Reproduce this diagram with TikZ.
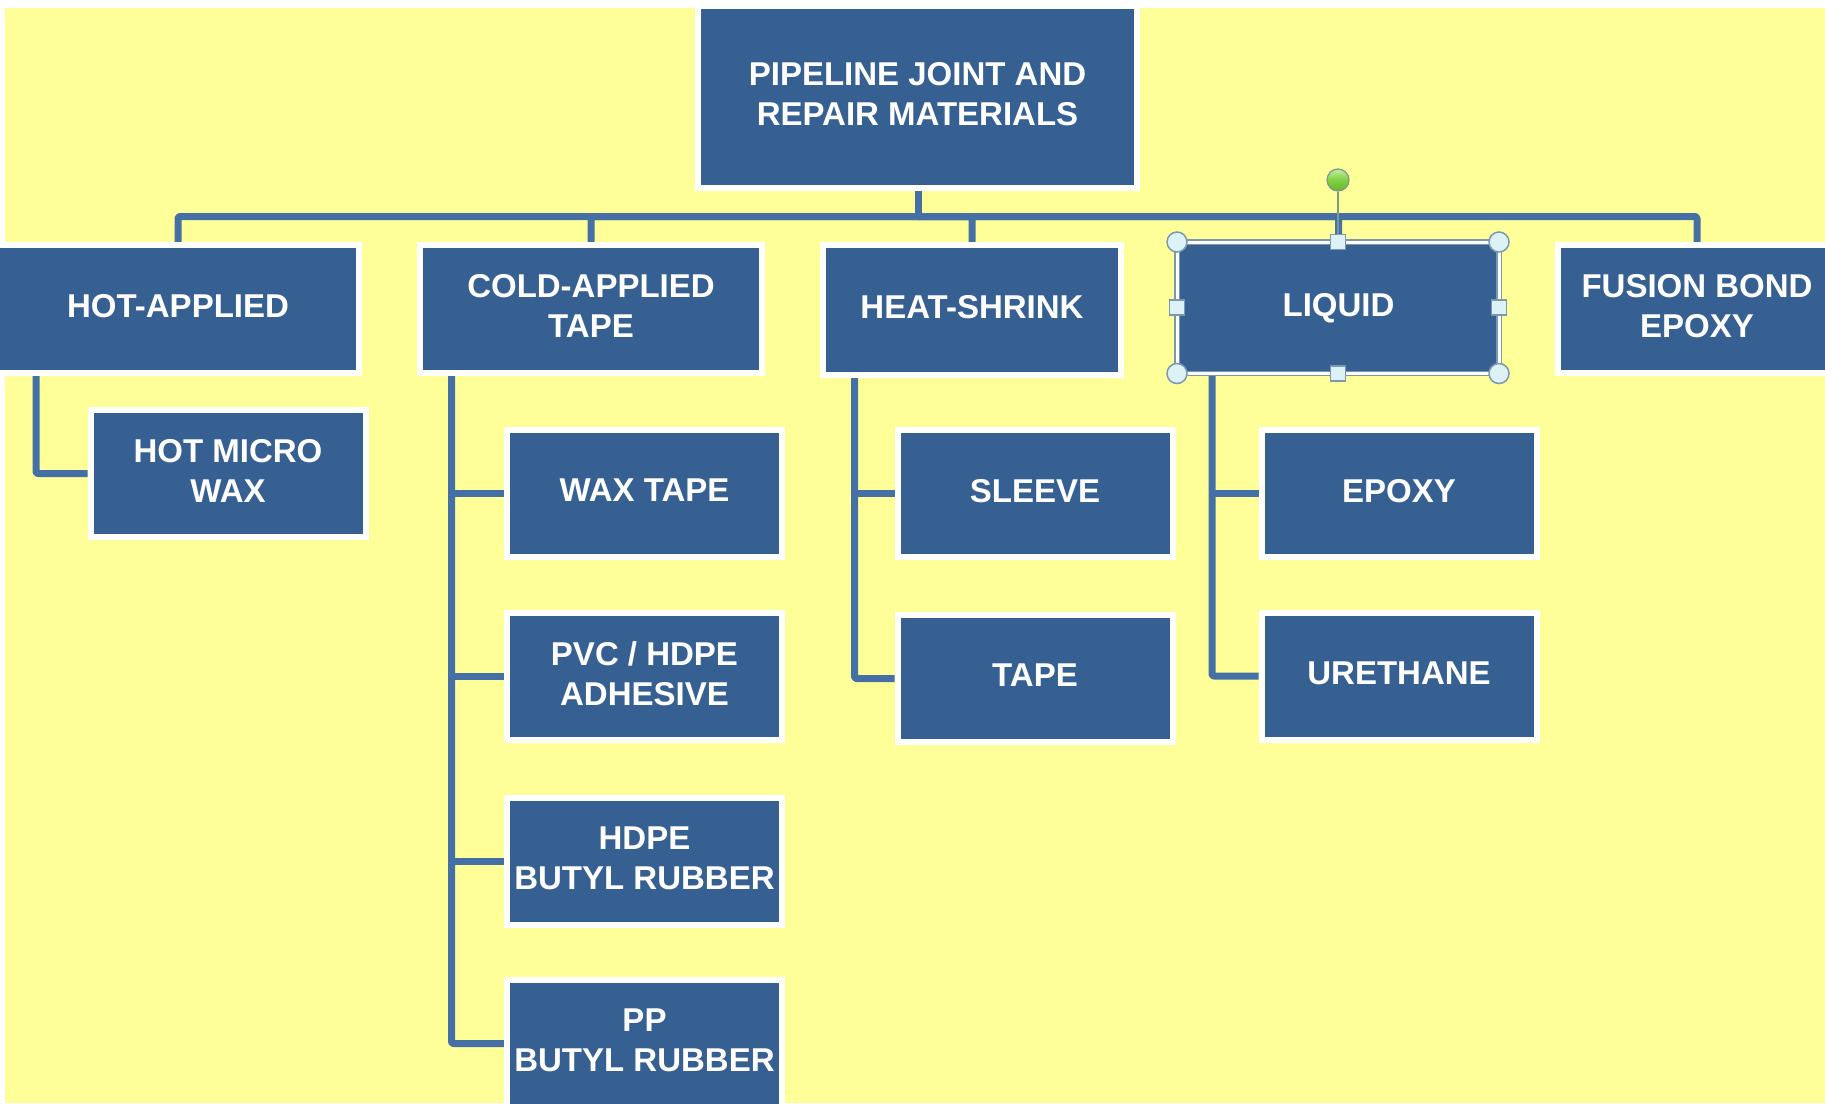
\documentclass[tikz,border=0pt]{standalone}
\usepackage{fontspec}
\setmainfont{Liberation Sans}
\usetikzlibrary{backgrounds}
\definecolor{bgyellow}{HTML}{FFFF99}
\definecolor{boxblue}{HTML}{376092}
\definecolor{connblue}{HTML}{4570A5}
\definecolor{handlefill}{HTML}{DDF2F7}
\definecolor{handledraw}{HTML}{7C98B0}
\definecolor{rotgreen}{HTML}{7FD23E}
\definecolor{rotline}{HTML}{7A9A8E}
\tikzset{
  box/.style={fill=boxblue, draw=white, line width=6pt, text=white, align=center,
    inner sep=0pt, text depth=6pt, font=\bfseries\fontsize{33}{40}\selectfont},
  lvltop/.style={box, minimum height=128pt},
  lvlsub/.style={box, minimum width=275pt, minimum height=127pt},
  conn/.style={draw=connblue, line width=7pt, line join=round, rounded corners=2pt},
  roundhandle/.style={circle, fill=handlefill, draw=handledraw, line width=1.5pt, minimum size=20pt, inner sep=0pt},
  squarehandle/.style={rectangle, fill=handlefill, draw=handledraw, line width=1.5pt, minimum size=15pt, inner sep=0pt},
}
\begin{document}
\begin{tikzpicture}[x=1pt,y=1pt]
\useasboundingbox (0,0) rectangle (1825,-1103);
\clip (0,0) rectangle (1825,-1103);

% boxes
\path
  node[box, minimum width=439pt, minimum height=182pt] (root) at (917.5,-97) {PIPELINE JOINT AND\\REPAIR MATERIALS}
  node[lvltop, minimum width=362pt] (hot) at (178,-309) {HOT-APPLIED}
  node[lvltop, minimum width=342pt] (cold) at (591,-309) {COLD-APPLIED\\TAPE}
  node[lvltop, minimum width=298pt, minimum height=130pt] (heat) at (972,-310) {HEAT-SHRINK}
  node[lvltop, minimum width=321pt, minimum height=129pt, draw=none] (liq) at (1338.5,-308) {LIQUID}
  node[lvltop, minimum width=278pt] (fbe) at (1697,-309) {FUSION BOND\\EPOXY}
  node[lvlsub] (hmw) at (228,-473.5) {HOT MICRO\\WAX}
  node[lvlsub] (wax) at (644.5,-493.5) {WAX TAPE}
  node[lvlsub] (pvc) at (644.5,-676.5) {PVC / HDPE\\ADHESIVE}
  node[lvlsub] (hdpe) at (644.5,-861.5) {HDPE\\BUTYL RUBBER}
  node[lvlsub] (pp) at (644.5,-1043.5) {PP\\BUTYL RUBBER}
  node[lvlsub] (sleeve) at (1035,-493.5) {SLEEVE}
  node[lvlsub] (tape) at (1035,-678.5) {TAPE}
  node[lvlsub] (epoxy) at (1399,-493.5) {EPOXY}
  node[lvlsub] (ureth) at (1399,-676) {URETHANE};

% selection frame and handles of LIQUID
\draw[draw=handledraw, double=white, line width=1.2pt, double distance=3pt]
  (1177,-242) rectangle (1499,-373.5);
\node[roundhandle] (c1) at (1177,-242) {};
\node[roundhandle] (c2) at (1499,-242) {};
\node[roundhandle] (c3) at (1177,-373.5) {};
\node[roundhandle] (c4) at (1499,-373.5) {};
\node[squarehandle] (s1) at (1338,-242) {};
\node[squarehandle] (s2) at (1338,-373.5) {};
\node[squarehandle] (s3) at (1177,-307.5) {};
\node[squarehandle] (s4) at (1499,-307.5) {};
\node[circle, minimum size=22pt, inner sep=0pt, draw=rotline, line width=1.2pt,
  top color=rotgreen!45!white, bottom color=rotgreen!85!black, middle color=rotgreen] (rot) at (1338,-180) {};
\draw[rotline, line width=2.5pt] (rot.south) -- (s1.north);

% background and connectors, behind the boxes
\begin{scope}[on background layer]
  \fill[white] (0,0) rectangle (1825,-1103);
  \fill[bgyellow] (5,-8) rectangle (1825,-1103);
  \coordinate (bus) at (918,-216.5);
  \draw[conn] (root.south -| bus) -- (bus);
  \draw[conn] (hot.north) |- (bus) -| (fbe.north);
  \draw[conn] (bus) -| (cold.north);
  \draw[conn] (bus) -| (heat.north);
  \draw[conn] (bus) -| (liq.north);
  % sub-levels
  \coordinate (hs) at (36,0);
  \coordinate (cs) at (451.5,0);
  \coordinate (ts) at (854.5,0);
  \coordinate (ls) at (1212,0);
  \draw[conn] (hot.south -| hs) |- (hmw.west);
  \draw[conn] (cold.south -| cs) |- (pp.west);
  \draw[conn] (wax.west -| cs) -- (wax.west);
  \draw[conn] (pvc.west -| cs) -- (pvc.west);
  \draw[conn] (hdpe.west -| cs) -- (hdpe.west);
  \draw[conn] (heat.south -| ts) |- (tape.west);
  \draw[conn] (sleeve.west -| ts) -- (sleeve.west);
  \draw[conn] (liq.south -| ls) |- (ureth.west);
  \draw[conn] (epoxy.west -| ls) -- (epoxy.west);
\end{scope}
\end{tikzpicture}
\end{document}
